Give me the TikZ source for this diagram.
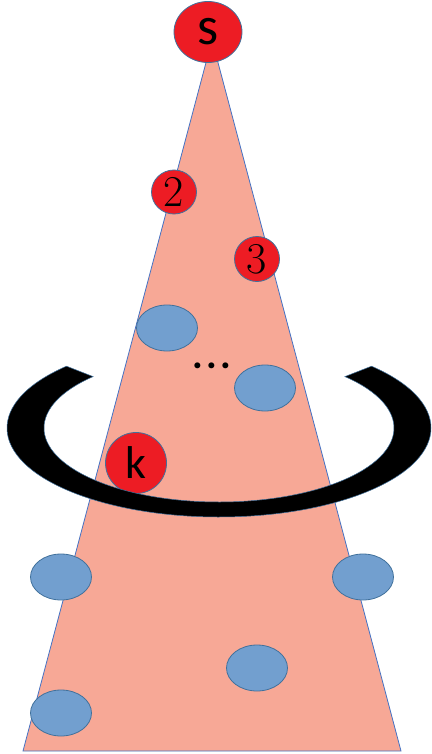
\documentclass[tikz,border=0pt]{standalone}
\usepackage{fontspec}
\newfontfamily\calib{Carlito}
\usetikzlibrary{shapes.geometric,calc}
\definecolor{cone}{HTML}{F7A896}
\definecolor{coneedge}{HTML}{4472C4}
\definecolor{bluefill}{HTML}{729FCF}
\definecolor{blueedge}{HTML}{41719C}
\definecolor{redfill}{HTML}{ED1C24}
\tikzset{
  blob/.style={ellipse, draw=blueedge, fill=bluefill, line width=0.8pt,
    minimum width=61pt, minimum height=46pt, inner sep=0pt},
  rednode/.style={ellipse, draw=blueedge, fill=redfill, line width=0.8pt,
    inner sep=0pt, text=black},
  conestyle/.style={draw=coneedge, fill=cone, line width=0.8pt},
  ringstyle/.style={fill=black, draw=blueedge, line width=0.5pt}
}
\begin{document}
\begin{tikzpicture}[x=1pt,y=1pt]
\useasboundingbox (0,0) rectangle (431,-754);
% cone
\coordinate (apex) at (212,-40);
\coordinate (bl) at (23,-751);
\coordinate (br) at (401,-751);
\draw[conestyle] (apex) -- (bl) -- (br) -- cycle;
% blue nodes
\node[blob] (b1) at (167,-328) {};
\node[blob] (b2) at (265,-388) {};
\node[blob] (b3) at (61,-577) {};
\node[blob] (b4) at (363,-577) {};
\node[blob] (b5) at (257,-668) {};
\node[blob] (b6) at (61,-713) {};
% red nodes
\node[rednode, minimum width=68pt, minimum height=61pt] (s) at (208,-32)
  {\calib\fontsize{54}{54}\selectfont s};
\node[rednode, minimum width=45pt, minimum height=44pt] (n2) at (174,-192)
  {\fontsize{44}{44}\selectfont 2};
\node[rednode, minimum width=45pt, minimum height=45pt] (n3) at (257,-259)
  {\fontsize{44}{44}\selectfont 3};
\node[rednode, minimum width=61pt, minimum height=61pt] (k) at (136,-463)
  {\calib\fontsize{46}{46}\selectfont k};
% dots
\node[inner sep=0pt] (dots) at (212,-366)
  {\calib\bfseries\fontsize{40}{40}\selectfont .\hspace{3pt}.\hspace{3pt}.};
% ring
\coordinate (rc) at (219,-428);
\path[ringstyle] (rc) ++(136:212 and 89)
  arc[start angle=136, end angle=404, x radius=212, y radius=89]
  -- ($(rc)+(44:175 and 74)$)
  arc[start angle=404, end angle=136, x radius=175, y radius=74]
  -- cycle;
\end{tikzpicture}
\end{document}
